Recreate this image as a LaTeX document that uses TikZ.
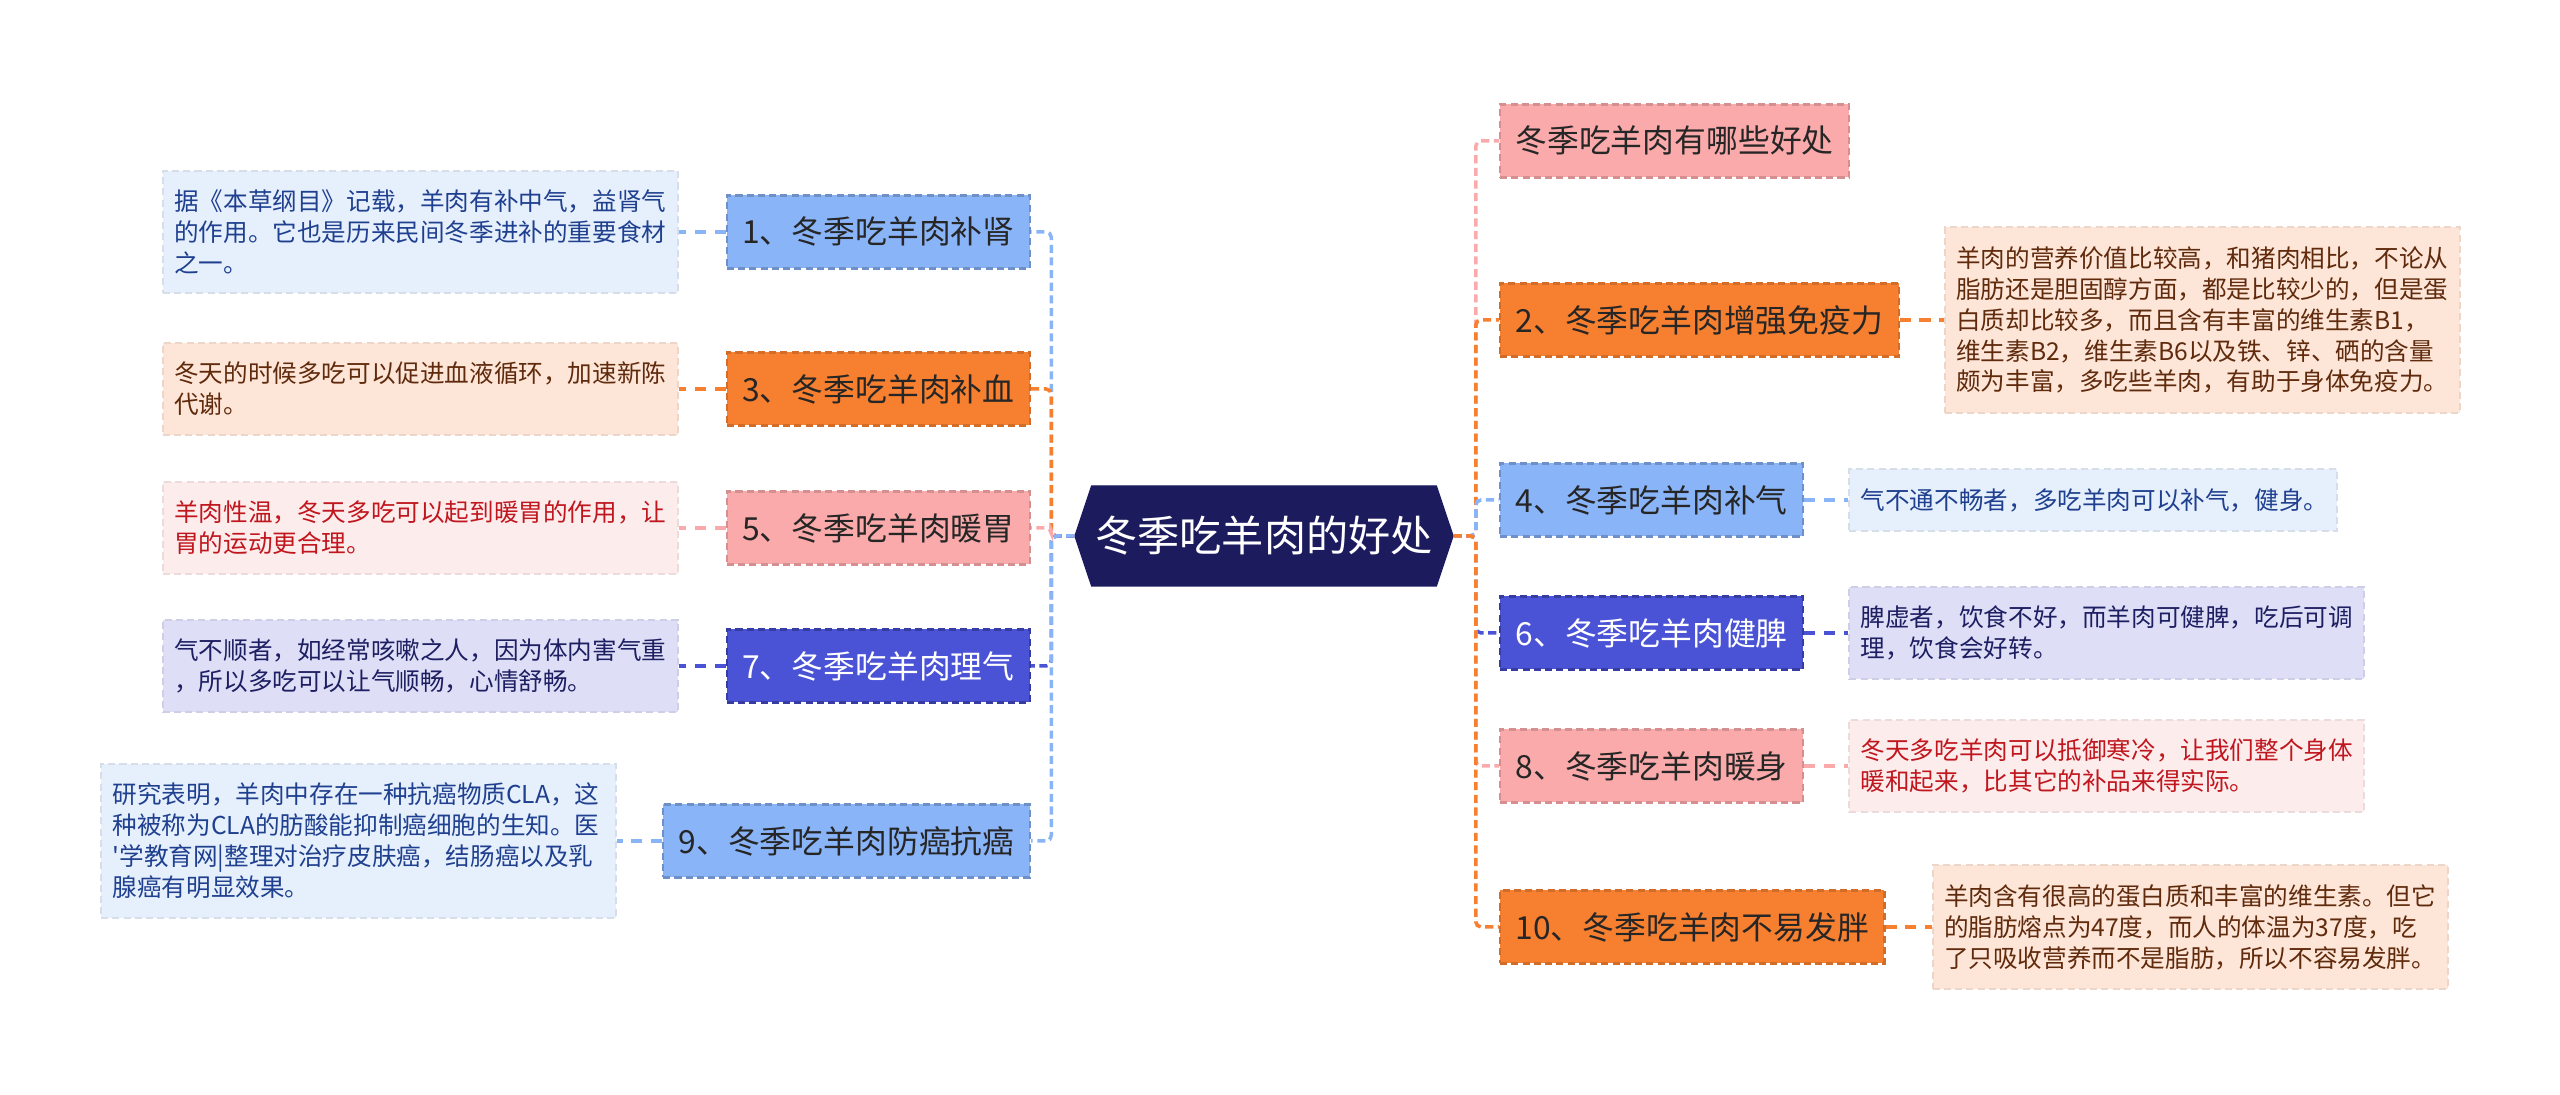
\documentclass[tikz,border=0pt]{standalone}
\usepackage{fontspec}
\usepackage{tikz}
\usetikzlibrary{positioning,shapes.symbols}
\newfontfamily\cjk{Noto Sans CJK SC}
\definecolor{rootnavy}{RGB}{28,27,94}
\definecolor{tblue}{RGB}{138,180,248}
\definecolor{torange}{RGB}{247,128,48}
\definecolor{tpink}{RGB}{250,170,170}
\definecolor{tindigo}{RGB}{74,82,214}
\definecolor{dblue}{RGB}{230,239,252}
\definecolor{dpeach}{RGB}{253,230,216}
\definecolor{dpink}{RGB}{253,236,236}
\definecolor{dlav}{RGB}{222,223,247}
\definecolor{txblue}{RGB}{31,64,143}
\definecolor{txbrown}{RGB}{96,42,12}
\definecolor{txred}{RGB}{192,22,30}
\definecolor{txnavy}{RGB}{30,30,98}
\tikzset{
  root/.style={shape=signal, signal to=west and east, signal pointer angle=143,
               fill=rootnavy, draw=rootnavy, minimum width=37.8mm,
               minimum height=10mm, inner sep=0pt, text=white,
               font=\cjk\fontsize{12}{14}\selectfont},
  topic/.style={draw, line width=0.6pt, dash pattern=on 2pt off 1.2pt,
                minimum height=7.3mm, inner xsep=1.55mm,
                font=\cjk\fontsize{9.05}{11}\selectfont, text=black!85},
  topicblue/.style={topic, fill=tblue, draw=tblue!80!black},
  topicorange/.style={topic, fill=torange, draw=torange!85!black},
  topicpink/.style={topic, fill=tpink, draw=tpink!85!black},
  topicindigo/.style={topic, fill=tindigo, draw=tindigo!75!black, text=white},
  detail/.style={draw, line width=0.6pt, dash pattern=on 2pt off 1.2pt,
                 text width=49.2mm, inner xsep=1.15mm, inner ysep=1.9mm,
                 align=left, font=\cjk\fontsize{7}{8.8}\selectfont},
  detailblue/.style={detail, fill=dblue, draw=dblue!93!black, text=txblue},
  detailpeach/.style={detail, fill=dpeach, draw=dpeach!93!black, text=txbrown},
  detailpink/.style={detail, fill=dpink, draw=dpink!93!black, text=txred},
  detaillav/.style={detail, fill=dlav, draw=dlav!93!black, text=txnavy},
  branch/.style={line width=1pt, dash pattern=on 2.3pt off 1.3pt,
                 rounded corners=1.5pt},
  leaf/.style={line width=0.9pt, dash pattern=on 3.2pt off 2.4pt},
}
\begin{document}
\begin{tikzpicture}[x=1cm,y=1cm]
  \path[use as bounding box] (0,0) rectangle (25.6,10.95);

  \node[root] (R) at (12.64,5.59) {冬季吃羊肉的好处};

  % left half
  \node[topicblue, anchor=east] (L1) at (10.31,8.63) {1、冬季吃羊肉补肾};
  \node[detailblue, left=4.7mm of L1] (D1)
    {据《本草纲目》记载，羊肉有补中气，益肾气\\的作用。它也是历来民间冬季进补的重要食材\\之一。};
  \node[topicorange, anchor=east] (L3) at (10.31,7.06) {3、冬季吃羊肉补血};
  \node[detailpeach, left=4.7mm of L3] (D3)
    {冬天的时候多吃可以促进血液循环，加速新陈\\代谢。};
  \node[topicpink, anchor=east] (L5) at (10.31,5.67) {5、冬季吃羊肉暖胃};
  \node[detailpink, left=4.7mm of L5] (D5)
    {羊肉性温，冬天多吃可以起到暖胃的作用，让\\胃的运动更合理。};
  \node[topicindigo, anchor=east] (L7) at (10.31,4.29) {7、冬季吃羊肉理气};
  \node[detaillav, left=4.7mm of L7] (D7)
    {气不顺者，如经常咳嗽之人，因为体内害气重\\，所以多吃可以让气顺畅，心情舒畅。};
  \node[topicblue, anchor=east] (L9) at (10.31,2.54) {9、冬季吃羊肉防癌抗癌};
  \node[detailblue, left=4.5mm of L9] (D9)
    {研究表明，羊肉中存在一种抗癌物质CLA，这\\种被称为CLA的肪酸能抑制癌细胞的生知。医\\'学教育网|整理对治疗皮肤癌，结肠癌以及乳\\腺癌有明显效果。};

  \draw[branch, tblue] (R.west) -- ++(-0.23,0) |- (L1.east);
  \draw[branch, torange] (R.west) -- ++(-0.23,0) |- (L3.east);
  \draw[branch, tpink] (R.west) -- ++(-0.23,0) |- (L5.east);
  \draw[branch, tindigo] (R.west) -- ++(-0.23,0) |- (L7.east);
  \draw[branch, tblue] (R.west) -- ++(-0.23,0) |- (L9.east);
  \draw[leaf, tblue] (L1.west) -- (D1.east);
  \draw[leaf, torange] (L3.west) -- (D3.east);
  \draw[leaf, tpink] (L5.west) -- (D5.east);
  \draw[leaf, tindigo] (L7.west) -- (D7.east);
  \draw[leaf, tblue] (L9.west) -- (D9.east);

  % right half
  \node[topicpink, anchor=west] (R0) at (14.99,9.54) {冬季吃羊肉有哪些好处};
  \node[topicorange, anchor=west] (R2) at (14.99,7.75) {2、冬季吃羊肉增强免疫力};
  \node[detailpeach, right=4.4mm of R2] (E2)
    {羊肉的营养价值比较高，和猪肉相比，不论从\\脂肪还是胆固醇方面，都是比较少的，但是蛋\\白质却比较多，而且含有丰富的维生素B1，\\维生素B2，维生素B6以及铁、锌、硒的含量\\颇为丰富，多吃些羊肉，有助于身体免疫力。};
  \node[topicblue, anchor=west] (R4) at (14.99,5.95) {4、冬季吃羊肉补气};
  \node[detailblue, text width=46.5mm, right=4.4mm of R4] (E4)
    {气不通不畅者，多吃羊肉可以补气，健身。};
  \node[topicindigo, anchor=west] (R6) at (14.99,4.62) {6、冬季吃羊肉健脾};
  \node[detaillav, right=4.4mm of R6] (E6)
    {脾虚者，饮食不好，而羊肉可健脾，吃后可调\\理，饮食会好转。};
  \node[topicpink, anchor=west] (R8) at (14.99,3.29) {8、冬季吃羊肉暖身};
  \node[detailpink, right=4.4mm of R8] (E8)
    {冬天多吃羊肉可以抵御寒冷，让我们整个身体\\暖和起来，比其它的补品来得实际。};
  \node[topicorange, anchor=west] (R10) at (14.99,1.68) {10、冬季吃羊肉不易发胖};
  \node[detailpeach, right=4.6mm of R10] (E10)
    {羊肉含有很高的蛋白质和丰富的维生素。但它\\的脂肪熔点为47度，而人的体温为37度，吃\\了只吸收营养而不是脂肪，所以不容易发胖。};

  \draw[branch, tpink] (R.east) -- ++(0.22,0) |- (R0.west);
  \draw[branch, torange] (R.east) -- ++(0.22,0) |- (R2.west);
  \draw[branch, tblue] (R.east) -- ++(0.22,0) |- (R4.west);
  \draw[branch, tindigo] (R.east) -- ++(0.22,0) |- (R6.west);
  \draw[branch, tpink] (R.east) -- ++(0.22,0) |- (R8.west);
  \draw[branch, torange] (R.east) -- ++(0.22,0) |- (R10.west);
  \draw[leaf, torange] (R2.east) -- (E2.west);
  \draw[leaf, tblue] (R4.east) -- (E4.west);
  \draw[leaf, tindigo] (R6.east) -- (E6.west);
  \draw[leaf, tpink] (R8.east) -- (E8.west);
  \draw[leaf, torange] (R10.east) -- (E10.west);
\end{tikzpicture}
\end{document}
